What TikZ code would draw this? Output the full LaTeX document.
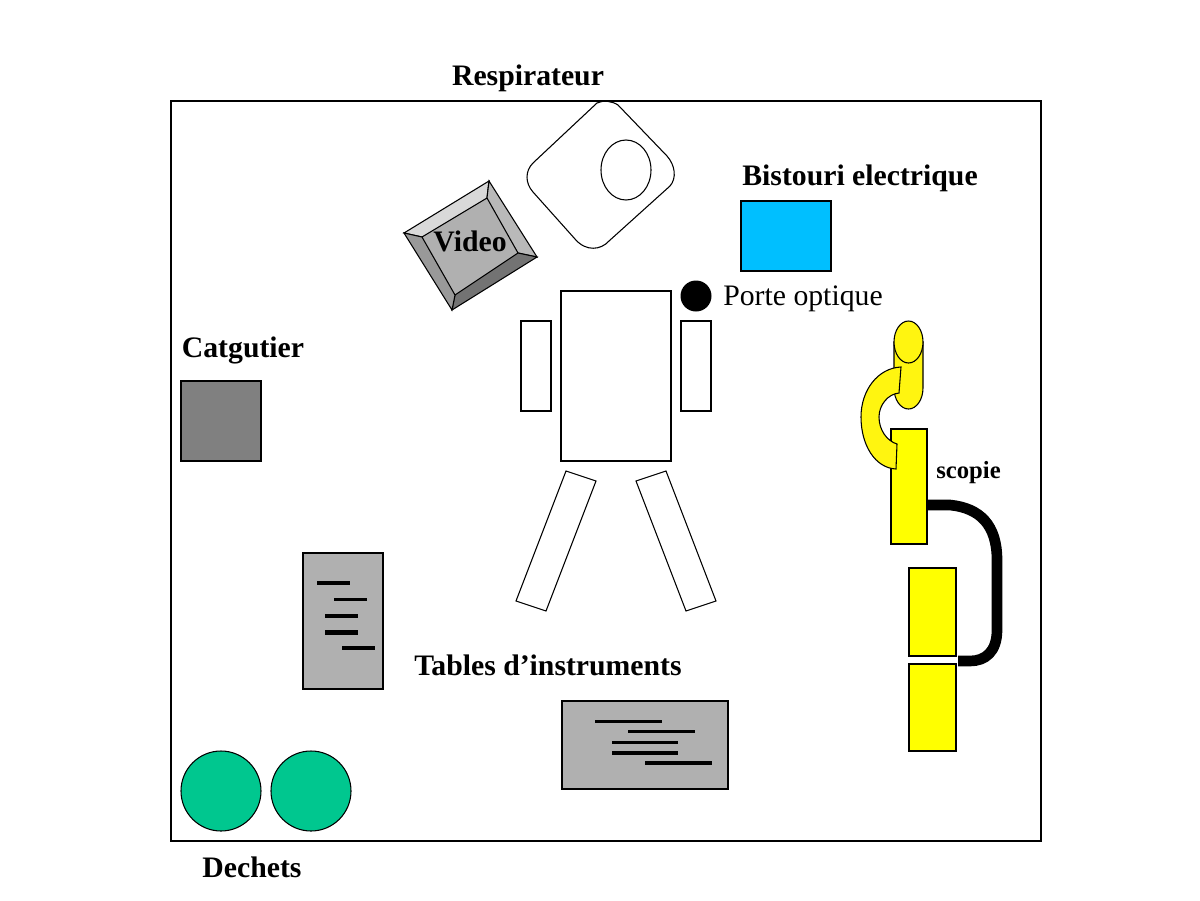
\documentclass[tikz,border=0pt]{standalone}
\usepackage{fontspec}
\setmainfont{Liberation Serif}
\definecolor{scopeyellow}{HTML}{FFFF00}
\definecolor{armyellow}{HTML}{FFF510}
\definecolor{blueunit}{HTML}{00BFFF}
\definecolor{wastegreen}{HTML}{00C78F}
\definecolor{tablegray}{HTML}{B0B0B0}
\definecolor{catgray}{HTML}{808080}
\tikzset{
  outl/.style={draw=black,line width=0.8pt},
  bar/.style={line width=2.6pt,black},
  thinbar/.style={line width=2pt,black},
  fatbar/.style={line width=3.2pt,black},
  boldlabel/.style={font=\fontsize{22.3}{26}\selectfont\bfseries,inner sep=0pt,anchor=base},
  plainlabel/.style={font=\fontsize{22.3}{26}\selectfont,inner sep=0pt,anchor=base},
}
\begin{document}
\begin{tikzpicture}[x=0.75pt,y=-0.75pt]
\useasboundingbox (0,0) rectangle (1200,900);
\fill[white] (0,0) rectangle (1200,900);
\draw[outl] (171,101) rectangle (1041,841);
% respirateur
\draw[outl] (597,103) .. controls (603,100) and (612,101) .. (618,105)
  -- (667,156) .. controls (675,165) and (677,178) .. (670,186)
  -- (609,241) .. controls (601,250) and (586,252) .. (575,239)
  -- (533,192) .. controls (525,183) and (525,171) .. (533,163) -- cycle;
\draw[outl] (626,170) ellipse (25 and 30);
% video
\fill[tablegray] (422,237) -- (487,198) -- (518,253) -- (455,295) -- cycle;
\filldraw[fill=gray!30!white,outl] (404,233) -- (489,181) -- (487,198) -- (422,237) -- cycle;
\filldraw[fill=gray!55!white,outl] (489,181) -- (537,257) -- (518,253) -- (487,198) -- cycle;
\filldraw[fill=gray!90!black,outl] (537,257) -- (452,310) -- (455,295) -- (518,253) -- cycle;
\filldraw[fill=gray!80!white,outl] (452,310) -- (404,233) -- (422,237) -- (455,295) -- cycle;
% table and limbs
\draw[outl] (561,291) rectangle (671,461);
\draw[outl] (521,321) rectangle (551,411);
\draw[outl] (681,321) rectangle (711,411);
\draw[outl] (566,471) -- (596,481) -- (546,611) -- (516,601) -- cycle;
\draw[outl] (636,481) -- (666,471) -- (716,601) -- (686,611) -- cycle;
% blue + dot
\filldraw[fill=blueunit,outl] (741,201) rectangle (831,271);
\fill[black] (696,296) circle (15.5);
% catgut
\filldraw[fill=catgray,outl] (181,381) rectangle (261,461);
% instrument sheets
\filldraw[fill=tablegray,outl] (303,553) rectangle (383,689);
\draw[bar] (317,583) -- (350,583);
\draw[thinbar] (334,599.5) -- (367,599.5);
\draw[fatbar] (325,616) -- (358,616);
\draw[fatbar] (325,632.5) -- (358,632.5);
\draw[bar] (342,648) -- (375,648);
\filldraw[fill=tablegray,outl] (562,701) rectangle (728,789);
\draw[bar] (595,721.5) -- (662,721.5);
\draw[bar] (628,731.5) -- (695,731.5);
\draw[thinbar] (612,742.5) -- (678,742.5);
\draw[bar] (612,753) -- (678,753);
\draw[bar] (645,763) -- (712,763);
% waste
\filldraw[fill=wastegreen,outl] (221,791) circle (40);
\filldraw[fill=wastegreen,outl] (311,791) circle (40);
% scopie
\draw[line width=8pt,black] (928,505) -- (950,505) .. controls (980,508) and (997,525) .. (997,560) -- (997,630) .. controls (997,652) and (985,661) .. (970,661) -- (958,661);
\filldraw[fill=armyellow,outl] (894,342) -- (894,388) arc[start angle=180,end angle=0,x radius=14.5,y radius=21] -- (923,342) -- cycle;
\filldraw[fill=armyellow,outl] (908.5,342) ellipse (14.5 and 21);
\filldraw[fill=scopeyellow,outl] (891,429) rectangle (927,544);
\filldraw[fill=armyellow,outl] (901,367) -- (899,393)
  .. controls (888,394) and (879,405) .. (879,417)
  .. controls (879,430) and (887,441) .. (897,444)
  -- (896,469)
  .. controls (875,468) and (861,445) .. (861,417)
  .. controls (861,390) and (878,368) .. (901,367) -- cycle;
\filldraw[fill=scopeyellow,outl] (909,568) rectangle (956,656);
\filldraw[fill=scopeyellow,outl] (909,664) rectangle (956,751);
% labels
\node[boldlabel] (resp) at (528,85) {Respirateur};
\node[boldlabel] (bist) at (860,185.5) {Bistouri electrique};
\node[boldlabel] (video) at (470,251.5) {Video};
\node[plainlabel] (porte) at (803,305) {Porte optique};
\node[boldlabel] (cat) at (243,357.5) {Catgutier};
\node[boldlabel,font=\fontsize{18.5}{22}\selectfont\bfseries] (scop) at (968.5,478) {scopie};
\node[boldlabel] (tab) at (548,675) {Tables d’instruments};
\node[boldlabel] (dech) at (252,877) {Dechets};
\end{tikzpicture}
\end{document}
